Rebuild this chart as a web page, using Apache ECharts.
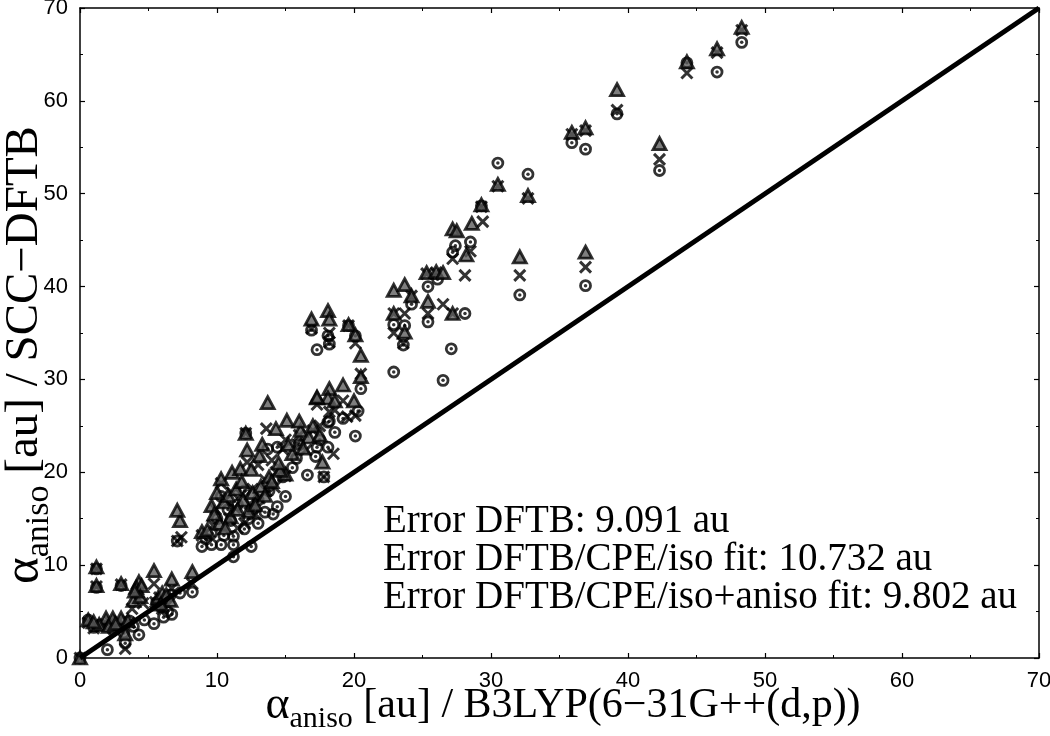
<!DOCTYPE html>
<html>
<head>
<meta charset="utf-8">
<script src="https://cdn.jsdelivr.net/npm/echarts@6/dist/echarts.min.js"></script>
<style>html,body{margin:0;padding:0;background:#fff}#c{width:1050px;height:736px}</style>
</head>
<body>
<div id="c"></div>
<script>
// ---- data (x = B3LYP, y = SCC-DFTB) ----
const triangles = [
  [48.3,67.9],[46.5,65.6],[44.3,64.2],[39.2,61.2],[36.9,57.1],[35.9,56.6],[42.3,55.4],[36.9,43.7],
  [32.7,49.8],[30.5,51.0],[32.1,43.2],[29.3,48.8],[28.6,46.8],[27.2,46.2],[27.5,46.0],[28.2,43.4],
  [25.3,41.5],[26.0,41.6],[26.5,41.5],[22.9,39.6],[23.7,40.2],[24.2,39.0],[25.4,38.4],[27.2,37.1],
  [22.9,37.1],[23.7,35.1],[16.9,36.5],[18.1,37.4],[18.2,36.5],[19.6,35.9],[20.1,34.8],[20.5,32.6],
  [20.5,30.3],[19.2,29.4],[18.2,29.0],[17.3,28.0],[18.1,28.0],[18.6,27.7],[20.0,27.7],[17.3,28.1],
  [13.7,27.5],[14.3,24.7],[15.1,25.6],[16.1,24.5],[16.7,23.8],[17.7,21.1],[12.1,24.2],[12.2,22.4],
  [13.1,21.8],[11.1,20.0],[10.3,19.3],[11.7,20.4],[12.5,20.3],[15.0,19.8],[9.6,16.4],[10.5,16.8],
  [8.9,13.6],[7.3,14.8],[7.1,15.9],[10.8,17.5],[11.4,18.2],[11.9,17.0],[12.6,17.8],[13.2,18.5],
  [11.0,15.2],[12.3,15.8],[10.2,14.5],[9.3,13.8],[13.8,19.5],[14.6,20.2],[15.5,22.0],[16.3,22.6],
  [9.8,15.5],[10.6,14.0],[11.5,16.0],[12.8,16.5],[13.5,17.5],[14.0,19.0],[11.8,19.0],[10.0,17.8],
  [14.5,21.0],[15.2,23.0],[13.3,23.0],[17.0,25.0],[16.0,25.5],[17.5,24.0],
  [1.2,9.8],[1.2,7.8],[3.0,8.0],[5.4,9.4],[6.7,8.5],[8.2,9.3],[4.3,8.2],[4.1,7.6],[4.5,7.8],
  [3.9,6.2],[4.4,6.6],[3.3,2.6],[0.6,4.1],[1.9,4.3],[2.4,4.3],[3.0,4.3],[1.4,3.6],[2.1,3.4],
  [5.7,6.5],[6.0,7.0],[6.3,6.8],[6.6,6.2],[5.9,5.8],[3.5,4.0],[1.0,3.9],[2.6,3.7],[4.0,7.2],[0,0]
];
const crosses = [
  [48.3,67.6],[46.5,65.2],[44.3,63.0],[39.2,59.0],[36.9,56.8],[35.9,56.4],[42.3,53.7],[36.9,42.1],
  [32.7,49.5],[30.5,50.8],[32.1,41.2],[29.3,48.6],[29.4,47.0],[28.5,43.8],[27.2,43.0],[28.1,41.2],
  [26.0,41.5],[25.3,41.4],[26.5,38.1],[27.2,37.1],[25.4,37.1],[24.2,39.0],[22.9,37.1],[23.7,37.1],
  [22.9,35.0],[23.6,33.9],[20.5,30.6],[20.1,33.9],[19.6,35.8],[18.2,34.0],[16.9,35.5],[18.2,35.0],
  [17.3,27.3],[19.2,27.7],[18.2,26.5],[18.6,26.7],[20.1,26.1],[13.6,24.7],[12.1,24.2],[12.2,21.1],
  [13.0,20.8],[14.0,21.3],[15.0,19.6],[14.2,18.4],[10.3,18.8],[17.8,19.5],[10.6,17.0],[11.3,16.2],
  [11.8,17.6],[12.4,16.6],[13.1,17.2],[10.9,15.0],[12.0,14.5],[9.7,14.3],[8.9,13.2],[7.4,13.0],
  [7.1,12.6],[13.5,19.2],[15.8,23.0],[16.5,22.4],[14.8,22.5],
  [9.9,16.0],[11.1,17.8],[12.6,18.2],[13.6,18.0],[14.3,20.0],[11.5,14.0],[12.8,15.5],[16.0,24.0],
  [17.0,24.5],[15.0,23.5],[18.5,22.0],[19.5,26.0],[17.5,25.0],
  [1.2,9.6],[1.2,7.7],[3.0,7.9],[5.4,8.0],[8.2,8.0],[3.8,5.3],[4.6,5.9],[3.3,1.0],[4.3,7.0],
  [6.7,7.5],[5.8,6.5],[6.2,6.0],[0.6,3.8],[1.6,3.5],[2.2,3.9],[2.8,4.0],[1.0,3.2],[2.5,3.3],
  [3.6,3.8],[6.0,5.3],[5.5,6.0],[0,0]
];
const circles = [
  [48.3,66.3],[46.5,63.1],[44.3,64.1],[39.2,58.6],[36.9,54.8],[35.9,55.5],[42.3,52.5],[36.9,40.1],
  [32.7,52.1],[30.5,53.3],[32.1,39.1],[29.3,48.7],[28.5,44.8],[27.4,44.4],[27.2,43.7],[26.1,40.8],
  [25.4,40.0],[28.1,37.1],[25.4,36.2],[24.2,38.1],[22.9,35.9],[23.7,35.8],[23.6,33.7],[27.1,33.3],
  [22.9,30.8],[26.5,29.9],[20.5,29.0],[20.1,34.7],[19.6,35.8],[16.9,35.3],[17.3,33.2],[18.2,33.8],
  [18.1,34.7],[20.3,26.6],[18.2,25.5],[19.2,25.8],[18.6,24.3],[20.1,23.9],[12.1,24.2],[17.3,22.7],
  [18.1,22.7],[15.8,21.5],[17.2,21.7],[16.6,19.7],[17.8,19.5],[13.7,22.5],[14.4,22.7],[18.1,25.4],
  [10.3,17.4],[15.0,17.4],[13.5,15.7],[14.1,15.5],[14.4,16.3],[9.6,13.4],[10.5,13.2],[11.2,13.1],
  [12.0,13.9],[8.9,12.0],[9.6,12.2],[10.3,12.2],[12.5,12.0],[11.2,10.9],[7.1,12.6],[11.0,14.8],
  [12.3,15.0],[10.8,16.0],[13.0,17.0],[12.0,18.0],
  [10.0,15.0],[11.5,16.5],[12.6,16.0],[13.8,18.0],[14.8,19.5],[11.2,12.2],[9.2,12.8],[16.0,23.0],
  [17.5,23.5],[15.5,20.5],[13.0,14.5],
  [1.2,9.6],[1.2,7.6],[3.0,7.8],[8.2,7.1],[7.3,7.0],[4.3,2.5],[5.4,3.7],[3.3,1.6],[2.0,0.9],
  [6.4,5.0],[6.7,4.7],[6.1,4.4],[4.7,4.1],[3.9,3.4],[2.4,3.0],[3.2,2.7],[0.6,4.1],[1.5,3.6],
  [5.9,5.5],[6.3,6.3],[1.0,3.3],[2.8,3.5],[3.6,4.0],[5.6,6.0],[6.6,6.8],[0,0]
];
const diagonal = [[0,0],[70,70]];
const axisMin = 0, axisMax = 70, axisStep = 10;
const xTitle = ['α', 'aniso', ' [au] / B3LYP(6−31G++(d,p))'];
const yTitle = ['α', 'aniso', ' [au] / SCC−DFTB'];
const notes = ['Error DFTB: 9.091 au', 'Error DFTB/CPE/iso fit: 10.732 au', 'Error DFTB/CPE/iso+aniso fit: 9.802 au'];

// ---- chart ----
const serif = '"Liberation Serif", "Times New Roman", serif';
const chart = echarts.init(document.getElementById('c'), null, {renderer: 'canvas'});

function axisBase(pos, showLabels) {
  return {
    type: 'value', position: pos, min: axisMin, max: axisMax, interval: axisStep,
    axisLine: {show: true, onZero: false, lineStyle: {color: '#000', width: 1.5}},
    axisTick: {show: true, inside: true, length: 5, lineStyle: {color: '#000', width: 1.2}},
    minorTick: {show: true, splitNumber: 2, length: 3, lineStyle: {color: '#000', width: 1}},
    splitLine: {show: false},
    axisLabel: {show: showLabels, color: '#000', fontFamily: 'Liberation Sans', fontSize: 22, margin: 12}
  };
}
function richTitle(parts, size) {
  const sub = Math.round(size * 0.72);
  return {
    text: '{a|' + parts[0] + '}{s|' + parts[1] + '}{m|' + parts[2] + '}',
    rich: {
      a: {fontFamily: serif, fontSize: size + 4, fill: '#000'},
      s: {fontFamily: serif, fontSize: sub, fill: '#000', padding: [Math.round(size * 0.62), 0, 0, 0]},
      m: {fontFamily: serif, fontSize: size, fill: '#000'}
    },
    fill: '#000', align: 'center', verticalAlign: 'middle'
  };
}

const option = {
  animation: false,
  backgroundColor: '#fff',
  grid: {left: 80, right: 11, top: 8, bottom: 78, outerBoundsMode: 'none', containLabel: false},
  xAxis: [axisBase('bottom', true), axisBase('top', false)],
  yAxis: [axisBase('left', true), axisBase('right', false)],
  series: [
    {
      type: 'scatter', data: circles, symbol: 'circle', symbolSize: 10,
      itemStyle: {color: 'rgba(255,255,255,0)', borderColor: '#000', borderWidth: 2.8}, z: 2
    },
    {
      type: 'scatter', data: circles, symbol: 'circle', symbolSize: 3.5,
      itemStyle: {color: '#000'}, z: 2
    },
    {
      type: 'scatter', data: crosses, symbol: 'path://M0,0L10,10M10,0L0,10', symbolSize: 11,
      itemStyle: {color: 'rgba(0,0,0,0)', borderColor: '#000', borderWidth: 3}, z: 3
    },
    {
      type: 'scatter', data: triangles, symbol: 'triangle', symbolSize: [13, 12],
      itemStyle: {color: '#5e5e5e', borderColor: '#000', borderWidth: 2.8}, z: 4
    },
    {
      type: 'line', data: diagonal, symbol: 'none', lineStyle: {color: '#000', width: 5}, z: 5
    }
  ],
  graphic: [
    {type: 'text', x: 563, y: 706, style: richTitle(xTitle, 42)},
    {type: 'text', x: 25, y: 355, rotation: Math.PI / 2, style: richTitle(yTitle, 47)}
  ].concat(notes.map((t, i) => ({
    type: 'text', x: 383, y: 522 + i * 38,
    style: {text: t, font: '39px ' + serif, fill: '#000', align: 'left', verticalAlign: 'middle'}
  })))
};
chart.setOption(option);
</script>
</body>
</html>
